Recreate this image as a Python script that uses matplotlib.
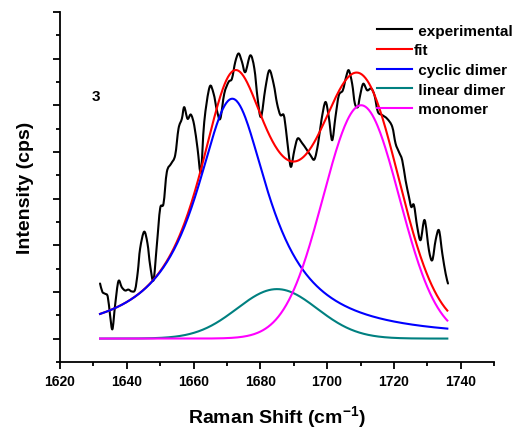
import numpy as np
import matplotlib
matplotlib.use("Agg")
import matplotlib.pyplot as plt
from matplotlib.path import Path
from matplotlib.patches import PathPatch
from matplotlib.lines import Line2D
from matplotlib.ticker import MultipleLocator, NullFormatter, FuncFormatter

plt.rcParams["font.family"] = ["Liberation Sans", "DejaVu Sans"]
plt.rcParams["font.weight"] = "bold"
plt.rcParams["mathtext.fontset"] = "custom"
plt.rcParams["mathtext.bf"] = "Liberation Sans:bold"
plt.rcParams["mathtext.rm"] = "Liberation Sans:bold"

# measured spectrum (Raman shift in cm-1, intensity in arb. units)
exp_shift = [1632.0, 1632.7, 1633.5, 1634.3, 1635.0, 1635.7, 1636.5, 1637.5, 1638.5, 1639.5,
             1640.5, 1641.5, 1642.5, 1643.3, 1644.0, 1645.2, 1646.2, 1647.0, 1648.0, 1649.0,
             1650.0, 1651.0, 1652.0, 1653.3, 1654.5, 1655.5, 1656.5, 1657.2, 1658.2, 1659.2,
             1660.2, 1661.2, 1662.2, 1663.2, 1664.8, 1666.0, 1667.0, 1668.0, 1669.2, 1670.5,
             1671.5, 1672.5, 1673.5, 1674.5, 1675.5, 1677.0, 1678.2, 1679.2, 1680.2, 1681.5,
             1682.7, 1684.0, 1685.0, 1686.0, 1687.0, 1687.7, 1688.5, 1689.2, 1690.2, 1691.2,
             1692.5, 1693.7, 1695.0, 1696.2, 1697.3, 1698.3, 1699.5, 1700.5, 1701.5, 1702.5,
             1703.5, 1704.7, 1705.7, 1706.5, 1707.5, 1708.3, 1709.2, 1709.8, 1710.8, 1712.0,
             1713.2, 1714.2, 1715.2, 1716.5, 1718.0, 1719.5, 1720.5, 1721.5, 1722.5, 1723.5,
             1724.5, 1725.2, 1726.0, 1727.0, 1728.0, 1729.2, 1730.5, 1731.5, 1732.5, 1733.5,
             1734.5, 1735.5, 1736.2]
exp_int = [1.18, 1.00, 0.96, 0.90, 0.50, 0.20, 0.71, 1.23, 1.10, 1.03,
           1.05, 1.01, 1.05, 1.43, 1.93, 2.29, 2.04, 1.57, 1.25, 2.00,
           2.79, 2.89, 3.57, 3.75, 3.93, 4.50, 4.71, 4.96, 4.71, 4.80,
           4.57, 4.07, 3.57, 4.64, 5.39, 5.25, 4.89, 4.71, 5.25, 5.50,
           5.57, 5.93, 6.11, 5.93, 5.71, 6.07, 5.79, 5.14, 4.75, 5.36,
           5.75, 5.45, 5.04, 4.79, 4.79, 4.46, 3.96, 3.68, 4.04, 4.29,
           4.19, 4.07, 3.93, 3.84, 4.18, 4.68, 5.07, 4.75, 4.25, 4.75,
           5.21, 5.32, 5.61, 5.75, 5.46, 5.04, 4.96, 5.18, 5.46, 5.32,
           5.36, 5.21, 4.86, 4.79, 4.71, 4.54, 4.18, 4.00, 3.82, 3.39,
           3.04, 2.82, 2.86, 2.39, 2.11, 2.54, 1.89, 1.68, 2.11, 2.32,
           1.82, 1.39, 1.18]

# fitted band parameters: centre (cm-1), height, width
cyc_center, cyc_height, cyc_hwhm = 1671.6, 5.14, 13.4      # Lorentzian
lin_center, lin_height, lin_sigma = 1685.0, 1.06, 12.0     # Gaussian
mono_center, mono_height, mono_sigma = 1710.2, 5.00, 11.4  # Gaussian
fit_range = (1632, 1736)

shift = np.linspace(fit_range[0], fit_range[1], 400)
cyclic = cyc_height / (1 + ((shift - cyc_center) / cyc_hwhm) ** 2)
linear = lin_height * np.exp(-(shift - lin_center) ** 2 / (2 * lin_sigma ** 2))
monomer = mono_height * np.exp(-(shift - mono_center) ** 2 / (2 * mono_sigma ** 2))
fit = cyclic + linear + monomer


def smooth_path(x, y):
    # Catmull-Rom style cubic Bezier through the measured points
    x = np.asarray(x, float)
    y = np.asarray(y, float)
    n = len(x)
    verts = [(x[0], y[0])]
    codes = [Path.MOVETO]
    for i in range(n - 1):
        i0, i3 = max(i - 1, 0), min(i + 2, n - 1)
        c1 = (x[i] + (x[i + 1] - x[i0]) / 6, y[i] + (y[i + 1] - y[i0]) / 6)
        c2 = (x[i + 1] - (x[i3] - x[i]) / 6, y[i + 1] - (y[i3] - y[i]) / 6)
        verts += [c1, c2, (x[i + 1], y[i + 1])]
        codes += [Path.CURVE4] * 3
    return Path(verts, codes)


fig = plt.figure(figsize=(5.18, 4.31), dpi=100)
ax = fig.add_axes([0.1158, 0.158, 0.838, 0.812])

lw = 1.5
ax.add_patch(PathPatch(smooth_path(exp_shift, exp_int), facecolor="none",
                       edgecolor="black", lw=lw, capstyle="round", joinstyle="round"))
ax.plot(shift, fit, color="red", lw=lw)
ax.plot(shift, cyclic, color="blue", lw=lw)
ax.plot(shift, linear, color="#008080", lw=lw)
ax.plot(shift, monomer, color="magenta", lw=lw)

ax.text(1630.8, 5.19, "3", fontsize=11, fontweight="bold", ha="center", va="center")

ax.set_xlim(1620, 1750)
ax.set_ylim(-0.5, 7)
ax.xaxis.set_major_locator(MultipleLocator(20))
ax.xaxis.set_minor_locator(MultipleLocator(10))
ax.yaxis.set_major_locator(MultipleLocator(1))
ax.yaxis.set_minor_locator(MultipleLocator(0.5))
ax.yaxis.set_major_formatter(NullFormatter())
ax.xaxis.set_major_formatter(FuncFormatter(lambda v, p: "%d" % v if v <= 1740 else ""))

for s in ["top", "right"]:
    ax.spines[s].set_visible(False)
for s in ["left", "bottom"]:
    ax.spines[s].set_linewidth(1.3)
ax.tick_params(which="major", direction="out", length=5, width=1.3, labelsize=10)
ax.tick_params(which="minor", direction="out", length=3, width=1.3)

ax.set_xlabel("Raman Shift (cm$^{\\mathbf{-1}}$)", fontsize=14, fontweight="bold", labelpad=11)
ax.set_ylabel("Intensity (cps)", fontsize=14, fontweight="bold", labelpad=10)

handles = [Line2D([], [], color=c, lw=lw) for c in ["black", "red", "blue", "#008080", "magenta"]]
labels = [" experimental", "fit", " cyclic dimer", " linear dimer", " monomer"]
leg = ax.legend(handles, labels, loc="upper right", bbox_to_anchor=(1.067, 0.997), frameon=False,
                fontsize=11, handlelength=2.3, handletextpad=0.1, labelspacing=0.37,
                borderaxespad=0.3)
for t in leg.get_texts():
    t.set_fontweight("bold")

fig.savefig("out.png", dpi=100)
